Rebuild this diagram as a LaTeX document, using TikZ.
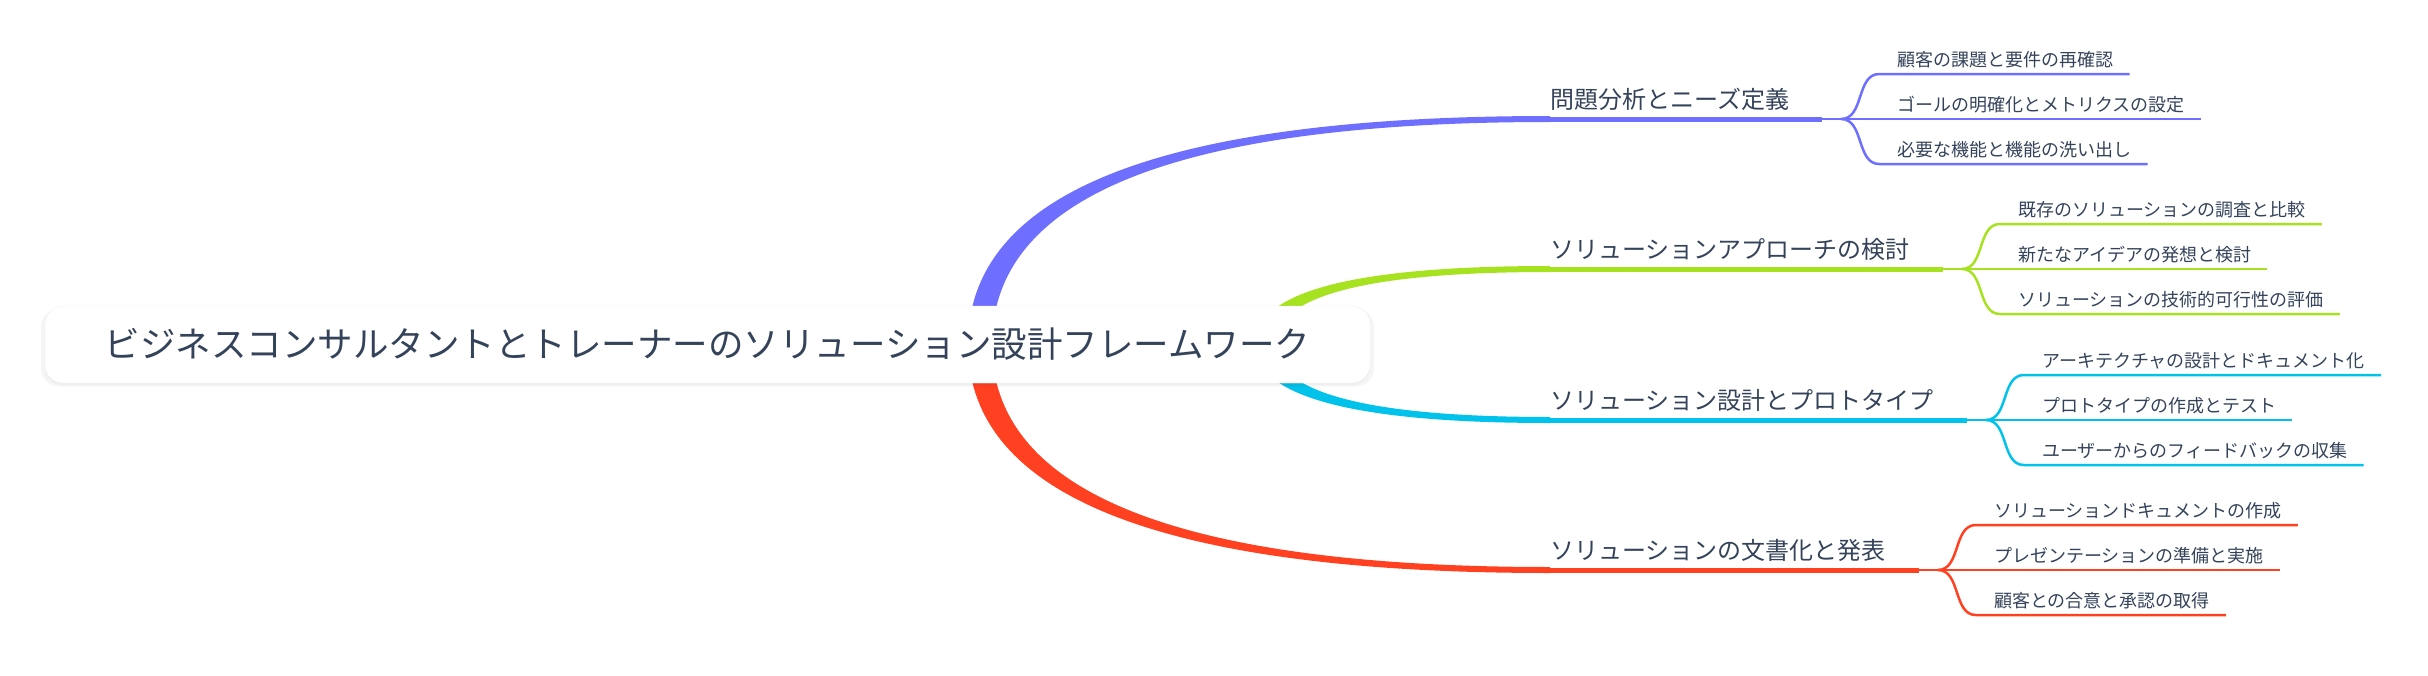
\documentclass[tikz,border=0pt]{standalone}
\usepackage{fontspec}
\newfontfamily\jpfont{Noto Sans CJK JP}
\usetikzlibrary{calc,shadows,backgrounds}

\definecolor{textcol}{HTML}{34435A}
\definecolor{brpurple}{HTML}{6E6EFF}
\definecolor{brgreen}{HTML}{A6E21F}
\definecolor{brcyan}{HTML}{00C2EA}
\definecolor{brred}{HTML}{FF4021}

\tikzset{
  rootbox/.style={draw=black!6, fill=white, rounded corners=18pt,
    minimum width=1325pt, minimum height=77pt, inner sep=0pt, text=textcol,
    font=\jpfont\fontsize{35.5}{40}\selectfont,
    general shadow={shadow xshift=0pt, shadow yshift=-3pt, shadow scale=1.006, fill=black, opacity=0.04},
    drop shadow={shadow xshift=0pt, shadow yshift=-2pt, opacity=0.06}},
  brtext/.style={inner sep=0pt, anchor=west, text=textcol, font=\jpfont\fontsize{24}{28}\selectfont},
  subtext/.style={inner sep=0pt, anchor=west, text=textcol, font=\jpfont\fontsize{18}{22}\selectfont},
  brline/.style={line width=5pt},
  subline/.style={line width=2.5pt},
}

\begin{document}
\begin{tikzpicture}[x=1pt,y=-1pt]

      \useasboundingbox (0,0) rectangle (2428,675);

      % central topic
      \node[rootbox] (root) at (707.5,344.5) {ビジネスコンサルタントとトレーナーのソリューション設計フレームワーク};
      \coordinate (r1) at ($(root.center)+(272.5,0)$);
      \coordinate (r2) at ($(root.center)+(557.5,0)$);
      \coordinate (r3) at ($(root.center)+(557.5,0)$);
      \coordinate (r4) at ($(root.center)+(272.5,0)$);

      % problem analysis
      \coordinate (b1a) at (1550,119);
      \begin{scope}[on background layer]
        \fill[brpurple] ($(r1)+(-12,0)$) .. controls ($(r1)+(-12,-153)$) and ($(b1a)+(-388,-3)$) .. ($(b1a)+(0,-3)$)
          -- ($(b1a)+(0,3)$) .. controls ($(b1a)+(-372,3)$) and ($(r1)+(12,-149)$) .. ($(r1)+(12,0)$) -- cycle;
      \end{scope}
      \node[brtext] (b1) at ($(b1a)+(0,-20)$) {問題分析とニーズ定義};
      \draw[brline,brpurple] (b1a) -- (b1a -| b1.east) -- ++(33,0) coordinate (b1e);
      \draw[subline,brpurple] (b1e) -- ++(19,0) coordinate (b1f);
      \node[subtext] (s11) at ($(b1f)+(56,-59)$) {顧客の課題と要件の再確認};
      \node[subtext] (s12) at ($(b1f)+(56,-14)$) {ゴールの明確化とメトリクスの設定};
      \node[subtext] (s13) at ($(b1f)+(56,31)$) {必要な機能と機能の洗い出し};
      \draw[subline,brpurple] (b1f) to[out=0,in=180] ($(s11.west)+(-18,14)$) -- ($(s11.east)+(16,14)$);
      \draw[subline,brpurple] (b1f) -- ($(s12.east)+(16,14)$);
      \draw[subline,brpurple] (b1f) to[out=0,in=180] ($(s13.west)+(-18,14)$) -- ($(s13.east)+(16,14)$);

      % solution approach
      \coordinate (b2a) at (1550,269);
      \begin{scope}[on background layer]
        \fill[brgreen] ($(r2)+(-10,0)$) .. controls ($(r2)+(-10,-53)$) and ($(b2a)+(-197,-3)$) .. ($(b2a)+(0,-3)$)
          -- ($(b2a)+(0,3)$) .. controls ($(b2a)+(-183,3)$) and ($(r2)+(10,-49)$) .. ($(r2)+(10,0)$) -- cycle;
      \end{scope}
      \node[brtext] (b2) at ($(b2a)+(0,-20)$) {ソリューションアプローチの検討};
      \draw[brline,brgreen] (b2a) -- (b2a -| b2.east) -- ++(33,0) coordinate (b2e);
      \draw[subline,brgreen] (b2e) -- ++(19,0) coordinate (b2f);
      \node[subtext] (s21) at ($(b2f)+(56,-59)$) {既存のソリューションの調査と比較};
      \node[subtext] (s22) at ($(b2f)+(56,-14)$) {新たなアイデアの発想と検討};
      \node[subtext] (s23) at ($(b2f)+(56,31)$) {ソリューションの技術的可行性の評価};
      \draw[subline,brgreen] (b2f) to[out=0,in=180] ($(s21.west)+(-18,14)$) -- ($(s21.east)+(16,14)$);
      \draw[subline,brgreen] (b2f) -- ($(s22.east)+(16,14)$);
      \draw[subline,brgreen] (b2f) to[out=0,in=180] ($(s23.west)+(-18,14)$) -- ($(s23.east)+(16,14)$);

      % design and prototype
      \coordinate (b3a) at (1550,420);
      \begin{scope}[on background layer]
        \fill[brcyan] ($(r3)+(-10,0)$) .. controls ($(r3)+(-10,52)$) and ($(b3a)+(-197,3)$) .. ($(b3a)+(0,3)$)
          -- ($(b3a)+(0,-3)$) .. controls ($(b3a)+(-183,-3)$) and ($(r3)+(10,48)$) .. ($(r3)+(10,0)$) -- cycle;
      \end{scope}
      \node[brtext] (b3) at ($(b3a)+(0,-20)$) {ソリューション設計とプロトタイプ};
      \draw[brline,brcyan] (b3a) -- (b3a -| b3.east) -- ++(33,0) coordinate (b3e);
      \draw[subline,brcyan] (b3e) -- ++(19,0) coordinate (b3f);
      \node[subtext] (s31) at ($(b3f)+(56,-59)$) {アーキテクチャの設計とドキュメント化};
      \node[subtext] (s32) at ($(b3f)+(56,-14)$) {プロトタイプの作成とテスト};
      \node[subtext] (s33) at ($(b3f)+(56,31)$) {ユーザーからのフィードバックの収集};
      \draw[subline,brcyan] (b3f) to[out=0,in=180] ($(s31.west)+(-18,14)$) -- ($(s31.east)+(16,14)$);
      \draw[subline,brcyan] (b3f) -- ($(s32.east)+(16,14)$);
      \draw[subline,brcyan] (b3f) to[out=0,in=180] ($(s33.west)+(-18,14)$) -- ($(s33.east)+(16,14)$);

      % documentation and presentation
      \coordinate (b4a) at (1550,570);
      \begin{scope}[on background layer]
        \fill[brred] ($(r4)+(-12,0)$) .. controls ($(r4)+(-12,152)$) and ($(b4a)+(-388,3)$) .. ($(b4a)+(0,3)$)
          -- ($(b4a)+(0,-3)$) .. controls ($(b4a)+(-372,-3)$) and ($(r4)+(12,148)$) .. ($(r4)+(12,0)$) -- cycle;
      \end{scope}
      \node[brtext] (b4) at ($(b4a)+(0,-20)$) {ソリューションの文書化と発表};
      \draw[brline,brred] (b4a) -- (b4a -| b4.east) -- ++(33,0) coordinate (b4e);
      \draw[subline,brred] (b4e) -- ++(19,0) coordinate (b4f);
      \node[subtext] (s41) at ($(b4f)+(56,-59)$) {ソリューションドキュメントの作成};
      \node[subtext] (s42) at ($(b4f)+(56,-14)$) {プレゼンテーションの準備と実施};
      \node[subtext] (s43) at ($(b4f)+(56,31)$) {顧客との合意と承認の取得};
      \draw[subline,brred] (b4f) to[out=0,in=180] ($(s41.west)+(-18,14)$) -- ($(s41.east)+(16,14)$);
      \draw[subline,brred] (b4f) -- ($(s42.east)+(16,14)$);
      \draw[subline,brred] (b4f) to[out=0,in=180] ($(s43.west)+(-18,14)$) -- ($(s43.east)+(16,14)$);

\end{tikzpicture}
\end{document}
